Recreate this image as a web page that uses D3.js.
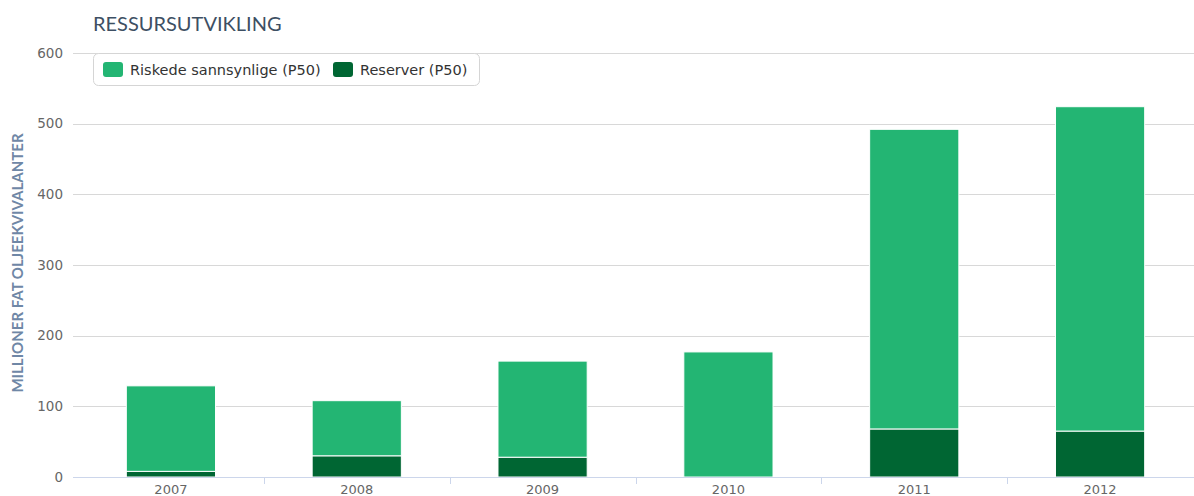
<!DOCTYPE html>
<html><head><meta charset="utf-8">
<script src="https://cdn.jsdelivr.net/npm/d3@7"></script>
<style>body{margin:0;background:#fff;}svg{display:block;font-family:Lato,"Open Sans",sans-serif;}</style>
</head><body>
<svg id="chart" width="1194" height="496"></svg>
<script>
const categories = ["2007","2008","2009","2010","2011","2012"];
const reserver = [8, 30, 28, 0, 68, 65];
const riskede = [121, 78, 136, 177, 424, 459];
const yTicks = [0,100,200,300,400,500,600];
const seriesNames = ["Riskede sannsynlige (P50)","Reserver (P50)"];
const colors = ["#23b573","#006633"];

(function(){
const svg = d3.select("#chart");
const W = 1194;
const pLeft = 78, pRight = 1193, pTop = 53, pBottom = 477;
const sans = "'DejaVu Sans', sans-serif";

const x = d3.scaleBand().domain(categories).range([pLeft, pRight]).paddingInner(0.52).paddingOuter(0.26);
const xb = d3.scaleBand().domain(categories).range([pLeft, pRight]);
const y = d3.scaleLinear().domain([0,600]).range([pBottom, pTop]);

// grid
svg.append("g").selectAll("line").data(yTicks.filter(d=>d>0)).join("line")
  .attr("x1", 73).attr("x2", W).attr("y1", d=>Math.round(y(d))+0.5).attr("y2", d=>Math.round(y(d))+0.5)
  .attr("stroke","#d8d8d8").attr("stroke-width",1);

// y labels
svg.append("g").selectAll("text").data(yTicks).join("text")
  .attr("x", 63).attr("y", d=>y(d)).attr("dy","0.35em").attr("text-anchor","end")
  .attr("font-family",sans).attr("font-size",13.5).attr("fill","#666").text(d=>d);

// stacked data
const data = categories.map((c,i)=>({cat:c, reserver:reserver[i], riskede:riskede[i]}));
const stack = d3.stack().keys(["reserver","riskede"])(data);
const colorFor = {reserver: colors[1], riskede: colors[0]};

svg.append("g").selectAll("g").data(stack).join("g")
  .attr("fill", d=>colorFor[d.key])
  .selectAll("rect").data(d=>d.filter(v=>v[1]-v[0]>0)).join("rect")
  .attr("x", d=>x(d.data.cat)).attr("width", x.bandwidth())
  .attr("y", d=>y(d[1])).attr("height", d=>y(d[0])-y(d[1]))
  .attr("stroke","#fff").attr("stroke-width",1);

// x axis line
svg.append("line").attr("x1",73).attr("x2",W).attr("y1",pBottom+0.5).attr("y2",pBottom+0.5)
  .attr("stroke","#ccd6eb").attr("stroke-width",1);
// x ticks at band boundaries
svg.append("g").selectAll("line").data(categories.slice(1)).join("line")
  .attr("x1", d=>Math.round(xb(d))+0.5).attr("x2", d=>Math.round(xb(d))+0.5)
  .attr("y1", pBottom).attr("y2", pBottom+7).attr("stroke","#ccd6eb");
svg.append("g").selectAll("text").data(categories).join("text")
  .attr("x", d=>xb(d)+xb.bandwidth()/2).attr("y", 494).attr("text-anchor","middle")
  .attr("font-family",sans).attr("font-size",13).attr("fill","#666").text(d=>d);

// title
svg.append("text").attr("x",93).attr("y",31).attr("font-size",20).attr("fill","#3d4f63").text("RESSURSUTVIKLING");

// y axis title
svg.append("text").attr("transform","translate(23,263) rotate(-90)").attr("text-anchor","middle")
  .attr("font-size",15).attr("font-weight","bold").attr("fill","#6f87a6").text("MILLIONER FAT OLJEEKVIVALANTER");

// legend
const lg = svg.append("g");
lg.append("rect").attr("x",93.5).attr("y",53.5).attr("width",386).attr("height",32).attr("rx",5)
  .attr("fill","#fff").attr("stroke","#d5d5d5");
const lx = [103, 333];
seriesNames.forEach((n,i)=>{
  lg.append("rect").attr("x",lx[i]).attr("y",62).attr("width",20).attr("height",15).attr("rx",3).attr("fill",colors[i]);
  lg.append("text").attr("x",lx[i]+27).attr("y",75).attr("font-family",sans).attr("font-size",14.5).attr("fill","#333").text(n);
});
})();
</script>
</body></html>
